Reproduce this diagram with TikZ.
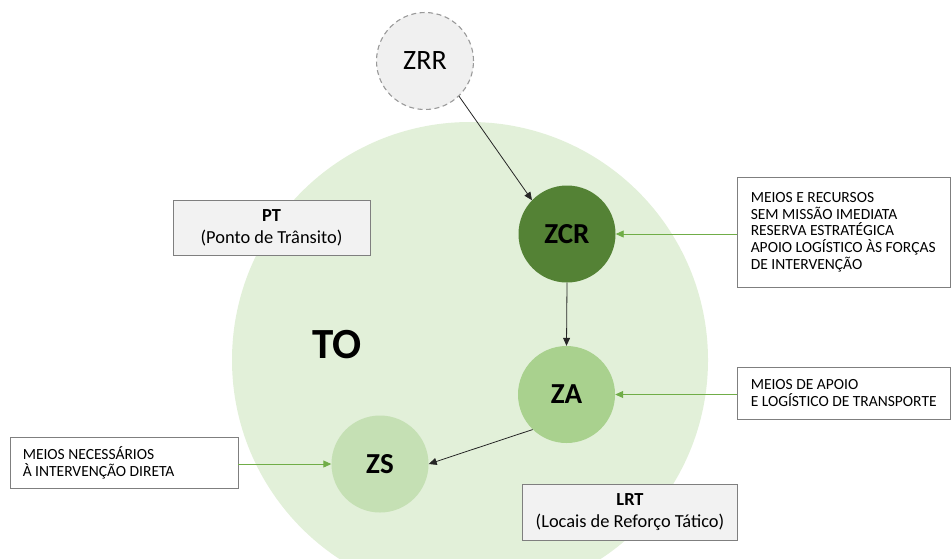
\documentclass[tikz,border=0pt]{standalone}
\usepackage{fontspec}
\setmainfont{Carlito}
\usetikzlibrary{arrows.meta}

\definecolor{areafill}{HTML}{E2F0D9}
\definecolor{zcrfill}{HTML}{548235}
\definecolor{zafill}{HTML}{A9D18E}
\definecolor{zsfill}{HTML}{C5E0B4}
\definecolor{zrrfill}{HTML}{F0F0F0}
\definecolor{zrrline}{HTML}{9A9A9A}
\definecolor{linkgreen}{HTML}{70AD47}
\definecolor{boxline}{HTML}{7F7F7F}
\definecolor{labelfill}{HTML}{F2F2F2}

\tikzset{
  zone/.style={circle, minimum size=97pt, inner sep=0pt, text=black,
    font=\bfseries\fontsize{29}{29}\selectfont},
  flow/.style={draw=black!85, line width=0.8pt, -{Triangle[length=8pt,width=7pt]}},
  feed/.style={draw=linkgreen, line width=0.9pt, -{Triangle[length=8pt,width=7pt]}},
  notebox/.style={draw=boxline, line width=0.9pt, fill=white, rectangle, inner sep=0pt},
  notetext/.style={anchor=west, align=left, inner sep=0pt,
    font=\fontsize{15.5}{16.7}\selectfont},
  labelbox/.style={draw=boxline, line width=0.9pt, fill=labelfill, rectangle,
    align=center, inner sep=0pt, font=\fontsize{18.4}{22}\selectfont},
}

\begin{document}
\begin{tikzpicture}[x=1pt,y=-1pt]
\useasboundingbox (0,0) rectangle (952,558);
\clip (0,0) rectangle (952,558);

% theatre of operations
\fill[areafill] (470,360) circle[radius=238pt];
\node[font=\bfseries\fontsize{43}{43}\selectfont] (TO) at (337,345) {TO};

% zones
\node[zone, fill=zrrfill, draw=zrrline, line width=1.1pt, dash pattern=on 5pt off 3.5pt,
      font=\fontsize{28}{28}\selectfont] (ZRR) at (425,61) {ZRR};
\node[zone, fill=zcrfill] (ZCR) at (567,234) {ZCR};
\node[zone, fill=zafill] (ZA) at (566.5,394.5) {ZA};
\node[zone, fill=zsfill] (ZS) at (380,464) {ZS};

% place labels
\node[labelbox, minimum width=197pt, minimum height=55pt] (PT) at (271.5,227.5)
  {\textbf{PT}\\(Ponto de Trânsito)};
\node[labelbox, minimum width=215pt, minimum height=56pt] (LRT) at (630,512)
  {\textbf{LRT}\\(Locais de Reforço Tático)};

% descriptions of the means in each zone
\node[notebox, minimum width=213pt, minimum height=110pt] (resZCR) at (843.5,232) {};
\node[notetext] (resZCRtext) at ([xshift=14pt]resZCR.west)
  {MEIOS E RECURSOS\\SEM MISSÃO IMEDIATA\\RESERVA ESTRATÉGICA\\APOIO LOGÍSTICO ÀS FORÇAS\\DE INTERVENÇÃO};

\node[notebox, minimum width=213pt, minimum height=52pt] (resZA) at (843.5,393) {};
\node[notetext] (resZAtext) at ([xshift=14pt]resZA.west)
  {MEIOS DE APOIO\\E LOGÍSTICO DE TRANSPORTE};

\node[notebox, minimum width=228pt, minimum height=51pt] (resZS) at (124,462.5) {};
\node[notetext] (resZStext) at ([xshift=13pt]resZS.west)
  {MEIOS NECESSÁRIOS\\À INTERVENÇÃO DIRETA};

% flow between zones
\draw[flow] (ZRR.-46) -- (ZCR.136);
\draw[flow] (ZCR.south) -- (ZA.north);
\draw[flow] (ZA.226) -- (ZS.east);

% links from descriptions to zones
\draw[feed] (resZCR.west |- ZCR.east) -- (ZCR.east);
\draw[feed] (resZA.west |- ZA.east) -- (ZA.east);
\draw[feed] (resZS.east |- ZS.west) -- (ZS.west);
\end{tikzpicture}
\end{document}
